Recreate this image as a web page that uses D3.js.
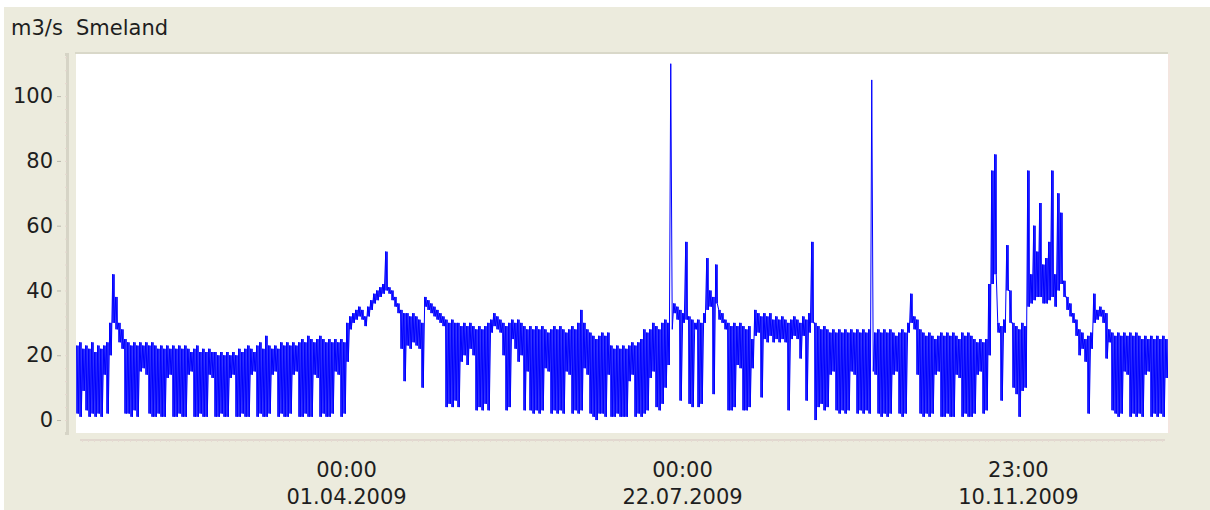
<!DOCTYPE html>
<html>
<head>
<meta charset="utf-8">
<script src="https://cdn.jsdelivr.net/npm/d3@7"></script>
<style>
  html, body { margin: 0; padding: 0; background: #ffffff; }
  svg { display: block; }
  text { font-family: "DejaVu Sans", Verdana, sans-serif; }
</style>
</head>
<body>
<svg id="chart" width="1210" height="510"></svg>
<script>
// ---- data: daily high / low of the flow (m3/s), 1 Jan 2009 .. 31 Dec 2009 ----
const dayHigh = [
  // Jan
  23,24,22,23,22,24,21,23,22,23, 24,30,45,38,30,28,25,24,23,24, 23,24,23,24,23,24,23,22,23,22, 23,
  // Feb
  22,23,22,23,22,23,22,21,22,23, 21,22,21,22,21,21,20,21,20,21, 20,21,20,22,21,22,23,22,
  // Mar
  21,23,24,22,26,23,22,23,22,24, 23,24,23,24,23,24,25,24,26,25, 24,25,26,25,24,25,24,25,24,25, 24,
  // Apr
  30,32,33,34,35,34,32,35,37,39, 40,41,42,52,41,40,38,36,34,33, 33,32,33,32,31,30,38,37,36,35,
  // May
  34,33,32,31,30,31,30,30,29,30, 29,30,29,28,29,28,29,30,31,33, 32,31,30,29,30,31,30,31,30,29, 28,
  // Jun
  29,28,29,28,29,28,27,28,29, 28,29,28,27,28,29,28,30,34,30, 28,27,26,25,26,27,26,27,23,22, 23,
  // Jul
  22,23,22,23,24,23,24,25,28, 27,28,30,29,28,30,31,30,110,36, 35,34,33,55,32,31,30,31,30,33, 50,40,
  // Aug
  38,48,34,33,31,30,29,30, 29,30,29,28,29,25,34,33,32,33, 32,33,31,32,31,32,31,30,31,32, 31,30,32,
  // Sep
  31,33,55,30,29,28,29, 28,27,28,27,28,27,28,27,28,27, 28,27,28,27,28,105,27,28,27,28, 27,28,27,
  // Oct
  26,27,28,27,30,39,32, 31,28,27,26,27,26,25,26,27,26, 27,26,27,26,25,27,26,27,26,25, 24,25,24,25,
  // Nov
  42,77,82,30,29,31, 54,40,30,29,28,30,29,77,45,60, 52,67,48,50,55,77,45,70,64,43, 38,36,33,31,
  // Dec
  28,27,25,26,27,39, 34,35,34,33,28,27,26,27,26,27, 26,27,26,27,26,25,26,25,26,25, 26,25,26,25,24
];
const dayLow = [
  // Jan
  2,1,9,3,1,2,1,2,1,14, 2,20,30,28,24,22,2,2,1,3, 1,15,16,14,2,1,1,2,1,1, 13,
  // Feb
  14,1,1,2,1,1,14,15,1, 1,2,1,1,14,13,1,1,2,1, 1,13,14,1,1,2,1,1,14,
  // Mar
  15, 1,2,1,1,2,14,15,1,2,1, 1,2,14,15,1,1,2,1,1,14, 13,1,2,1,1,2,15,14,1,2,
  // Apr
  18,28,30,31,32,31,29,32,34,36, 37,38,39,40,39,37,35,33,22,12, 23,22,24,23,22,10,35,34,33,32,
  // May
  31,30,29,4,5,4,6,4,18,20, 17,22,20,3,4,3,5,3,27,29, 28,27,20,3,4,25,22,18,20,3, 15,
  // Jun
  3,2,3,2,3,16,15,2,3, 2,3,2,15,14,2,3,2,3,16, 14,2,1,0,2,2,1,14,1,1, 2,
  // Jul
  1,1,1,12,14,1,2,1,2, 3,13,15,4,3,5,10,17,28,33, 31,6,30,31,5,4,28,4,5,30, 34,35,
  // Aug
  8,36,31,30,28,3,3,4, 17,16,3,3,4,16,26,27,7,25, 24,26,24,25,24,25,24,3,25,26, 25,19,26,
  // Sep
  6,27,30,0,4,5,3, 4,14,15,3,2,3,2,3,15,14, 2,3,2,3,2,15,14,2,1,2, 1,2,14,
  // Oct
  15,2,1,2,27,30,28, 14,2,1,2,1,2,14,15,1,1, 2,1,1,14,13,1,2,1,1,2, 14,15,2,3,
  // Nov
  20,42,45,27,6,27, 40,30,10,8,1,9,10,35,36,37, 38,38,36,36,37,38,35,40,42,38, 34,32,30,26,
  // Dec
  20,22,18,2,22,30, 31,32,30,19,24,3,2,1,2,15, 14,1,2,1,2,1,14,15,1,2, 1,2,1,13,1
];
const yTickValues = [0, 20, 40, 60, 80, 100];
const xTickDates = ["2009-04-01T00:00:00Z", "2009-07-22T00:00:00Z", "2009-11-10T23:00:00Z"];
const xTickTimeLabels = ["00:00", "00:00", "23:00"];
const xTickDateLabels = ["01.04.2009", "22.07.2009", "10.11.2009"];
const unitLabel = "m3/s";
const stationLabel = "Smeland";

// ---- layout ----
const svg = d3.select("#chart");
const plot = { left: 76, top: 54, right: 1168, bottom: 433 };

svg.append("rect").attr("x", 4).attr("y", 7).attr("width", 1206).attr("height", 503)
  .attr("fill", "#ecebdd");
svg.append("rect").attr("x", plot.left).attr("y", plot.top)
  .attr("width", plot.right - plot.left).attr("height", plot.bottom - plot.top)
  .attr("fill", "#ffffff");
svg.append("line").attr("x1", plot.left - 1).attr("x2", plot.right).attr("y1", plot.top - 1).attr("y2", plot.top - 1)
  .attr("stroke", "#d9d8c9").attr("stroke-width", 2);
svg.append("line").attr("x1", plot.right + 1).attr("x2", plot.right + 1).attr("y1", plot.top).attr("y2", plot.bottom)
  .attr("stroke", "#f3e6e0").attr("stroke-width", 2);

const x = d3.scaleUtc()
  .domain([new Date(Date.UTC(2009, 0, 1)), new Date(Date.UTC(2010, 0, 1))])
  .range([76, 1171]);
const y = d3.scaleLinear().domain([-4, 113]).range([plot.bottom, plot.top]);

// ---- series ----
const start = new Date(Date.UTC(2009, 0, 1));
const days = dayHigh.map((h, i) => ({
  t0: d3.utcDay.offset(start, i),
  t1: d3.utcDay.offset(start, i + 1),
  hi: h,
  lo: dayLow[i]
}));
const points = [];
days.forEach(d => {
  points.push({ t: d3.utcHour.offset(d.t0, 6), v: d.hi });
  points.push({ t: d3.utcHour.offset(d.t0, 18), v: d.lo });
});

svg.append("clipPath").attr("id", "clip").append("rect")
  .attr("x", plot.left).attr("y", plot.top)
  .attr("width", plot.right - plot.left).attr("height", plot.bottom - plot.top);

const series = svg.append("g").attr("clip-path", "url(#clip)");

// daily range (high-low) as columns
series.selectAll("rect.range").data(days.filter(d => d.hi < 90)).join("rect")
  .attr("class", "range")
  .attr("x", d => x(d.t0))
  .attr("width", d => x(d.t1) - x(d.t0))
  .attr("y", d => y(d.hi))
  .attr("height", d => Math.max(0, y(d.lo) - y(d.hi)))
  .attr("fill", "#0000ff")
  .attr("fill-opacity", 0.8);

// trace joining the daily highs and lows
const line = d3.line().x(d => x(d.t)).y(d => y(d.v));
series.append("path").datum(points)
  .attr("d", line)
  .attr("fill", "none")
  .attr("stroke", "#0000ff")
  .attr("stroke-width", 1)
  .attr("stroke-linejoin", "round");

// ---- y axis ----
const yMinor = svg.append("g").attr("transform", "translate(67,0)")
  .call(d3.axisLeft(y).tickValues(d3.range(0, 113, 4)).tickSize(2).tickFormat(""));
yMinor.select(".domain").attr("stroke", "#d6d4c6").attr("stroke-width", 3);
yMinor.selectAll(".tick line").attr("stroke", "#e6d6cf");

const yAxis = svg.append("g").attr("transform", "translate(61,0)")
  .call(d3.axisLeft(y).tickValues(yTickValues).tickSize(4).tickPadding(4));
yAxis.select(".domain").remove();
yAxis.selectAll(".tick line").attr("stroke", "#b8b7ab");
yAxis.selectAll(".tick text")
  .attr("fill", "#1e1e1e").style("font-size", "21px")
  .style("font-family", "'DejaVu Sans', Verdana, sans-serif");

// ---- x axis ----
const xMinor = svg.append("g").attr("transform", "translate(0,440)")
  .call(d3.axisBottom(x).ticks(d3.utcDay.every(2)).tickSize(2).tickFormat(""));
xMinor.select(".domain").attr("stroke", "#e1d8cf").attr("stroke-width", 2)
  .attr("d", "M80,0H1165");
xMinor.selectAll(".tick line").attr("stroke", "#e6dad2");
xMinor.selectAll(".tick").filter(d => x(d) < 80 || x(d) > 1165).remove();

const tickDates = xTickDates.map(s => new Date(s));
const xAxis = svg.append("g").attr("transform", "translate(0,440)")
  .call(d3.axisBottom(x).tickValues(tickDates).tickSize(0).tickFormat(""));
xAxis.select(".domain").remove();
xAxis.selectAll(".tick text").each(function (d, i) {
  const t = d3.select(this).attr("y", null).attr("dy", null)
    .attr("fill", "#1e1e1e").style("font-size", "21px");
  t.append("tspan").attr("x", 0).attr("y", 37).text(xTickTimeLabels[i]);
  t.append("tspan").attr("x", 0).attr("y", 64).text(xTickDateLabels[i]);
});

// ---- title ----
svg.append("text").attr("x", 11).attr("y", 35).attr("fill", "#1e1e1e")
  .style("font-size", "21px").text(unitLabel);
svg.append("text").attr("x", 76).attr("y", 35).attr("fill", "#1e1e1e")
  .style("font-size", "21px").text(stationLabel);
</script>
</body>
</html>
